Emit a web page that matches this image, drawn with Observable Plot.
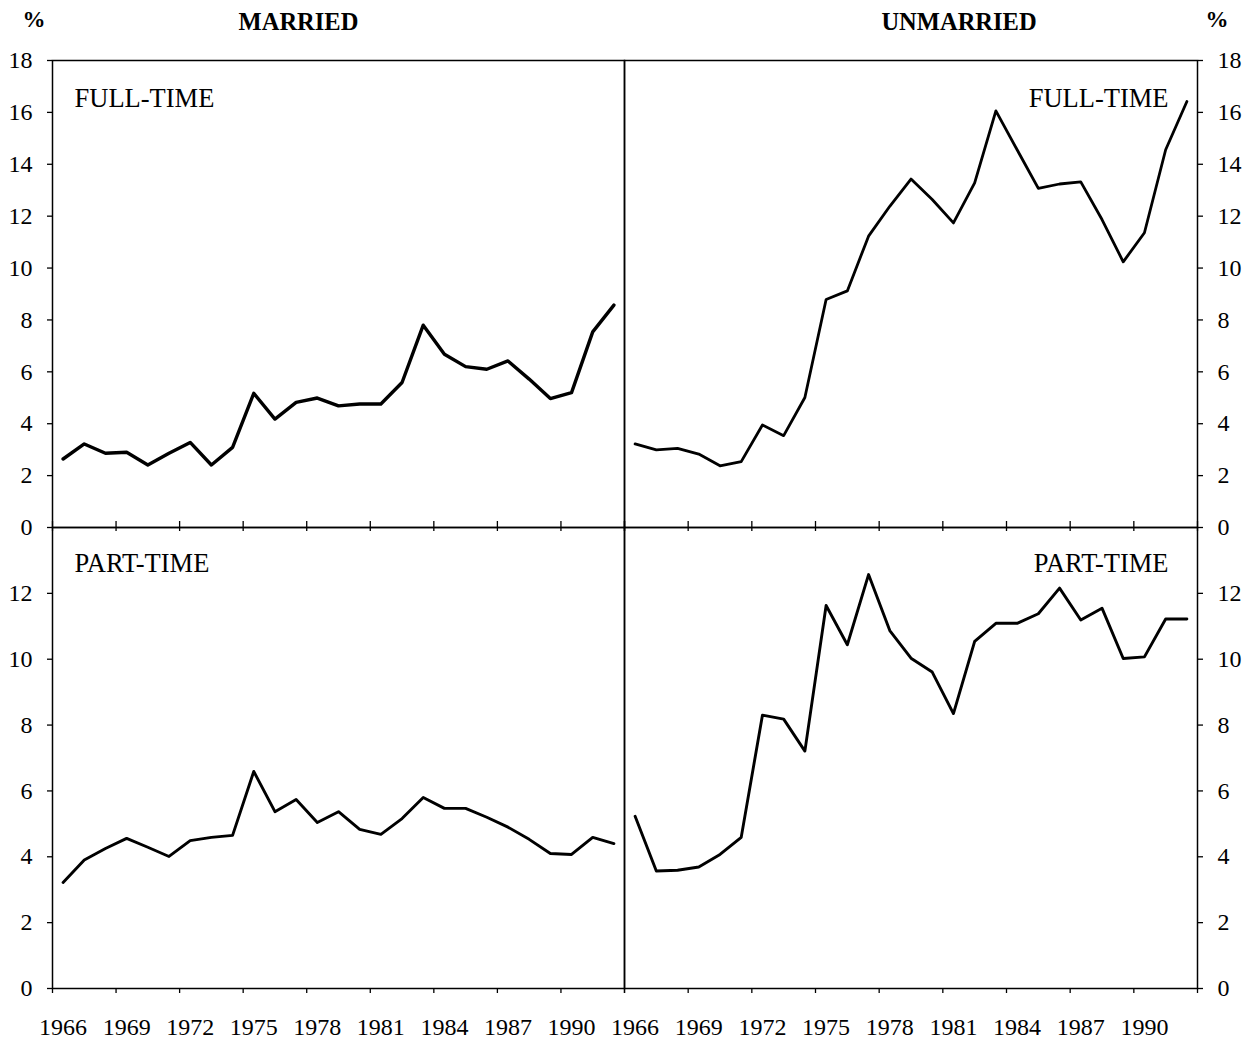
<!DOCTYPE html>
<html>
<head>
<meta charset="utf-8">
<script src="https://cdn.jsdelivr.net/npm/d3@7"></script>
<script src="https://cdn.jsdelivr.net/npm/@observablehq/plot@0.6"></script>
<style>
  html, body { margin: 0; padding: 0; background: #fff; }
  #chart { position: relative; width: 1254px; height: 1042px; background: #fff; }
  #chart svg { position: absolute; left: 0; top: 0; }
</style>
</head>
<body>
<div id="chart"></div>
<script>
// ---- data (percent) ----
const years = [1966, 1967, 1968, 1969, 1970, 1971, 1972, 1973, 1974, 1975, 1976, 1977, 1978, 1979,
               1980, 1981, 1982, 1983, 1984, 1985, 1986, 1987, 1988, 1989, 1990, 1991, 1992];
const marriedFullTime = [2.64, 3.22, 2.86, 2.90, 2.41, 2.86, 3.28, 2.41, 3.09, 5.17, 4.18, 4.82, 4.99, 4.69,
                         4.76, 4.76, 5.59, 7.80, 6.68, 6.20, 6.10, 6.42, 5.72, 4.97, 5.20, 7.54, 8.57];
const unmarriedFullTime = [3.22, 2.99, 3.05, 2.83, 2.38, 2.54, 3.95, 3.54, 5.01, 8.79, 9.12, 11.23, 12.38, 13.43,
                           12.64, 11.74, 13.28, 16.06, 14.56, 13.07, 13.24, 13.32, 11.87, 10.24, 11.36, 14.56, 16.42];
const marriedPartTime = [3.22, 3.90, 4.25, 4.56, 4.29, 4.01, 4.49, 4.59, 4.65, 6.59, 5.37, 5.74, 5.04, 5.37,
                         4.83, 4.68, 5.16, 5.80, 5.47, 5.47, 5.20, 4.90, 4.53, 4.10, 4.07, 4.59, 4.40];
const unmarriedPartTime = [5.23, 3.57, 3.59, 3.69, 4.07, 4.59, 8.30, 8.18, 7.21, 11.63, 10.44, 12.57, 10.87, 10.03,
                           9.61, 8.35, 10.54, 11.09, 11.09, 11.38, 12.16, 11.19, 11.55, 10.02, 10.07, 11.22, 11.22];

const labelYears = [1966, 1969, 1972, 1975, 1978, 1981, 1984, 1987, 1990];
const yTicksFull = [0, 2, 4, 6, 8, 10, 12, 14, 16, 18];
const yTicksPart = [0, 2, 4, 6, 8, 10, 12];
const columnTitles = ["MARRIED", "UNMARRIED"];
const panelLabels = ["FULL-TIME", "PART-TIME"];
const unitLabel = "%";

// ---- layout ----
const W = 1254, H = 1042;
const X0 = 52, XM = 624, X1 = 1197;
const Y0 = 60, YM = 527, Y1 = 988;
const FONT = "'Liberation Serif', 'Times New Roman', Times, serif";
// category boundaries (tick marks between year groups)
const tickBounds = labelYears.map(y => y - 0.5).concat([years[years.length - 1] + 0.5]);

function panel({values, side, row, strokeWidth}) {
  const isLeft = side === "left";
  const isTop = row === "top";
  const marginLeft = isLeft ? X0 : XM;
  const marginRight = isLeft ? W - XM : W - X1;
  const marginTop = isTop ? Y0 : YM;
  const marginBottom = isTop ? H - YM : H - Y1;
  const innerH = H - marginTop - marginBottom;
  const data = years.map((year, i) => ({year, value: values[i]}));

  const marks = [
    Plot.axisY({
      anchor: isLeft ? "left" : "right",
      ticks: isTop ? yTicksFull : yTicksPart,
      tickSize: 5, tickPadding: 15, fontSize: 24, label: null,
      tickFormat: d => String(d), stroke: "#000", fill: "#000", strokeWidth: 1.3
    }),
    Plot.line(data, {x: "year", y: "value", stroke: "#000", strokeWidth, strokeLinejoin: "round"}),
    Plot.text([isTop ? panelLabels[0] : panelLabels[1]], {
      frameAnchor: isLeft ? "top-left" : "top-right",
      textAnchor: isLeft ? "start" : "end", lineAnchor: "middle",
      dx: isLeft ? 22 : -29, dy: isTop ? 38 : 36,
      fontSize: 26.5, fill: "#000"
    }),
    Plot.frame({stroke: "#000", strokeWidth: 1.5})
  ];
  if (isTop) {
    marks.push(Plot.ruleX(tickBounds, {insetTop: innerH - 6, stroke: "#000", strokeWidth: 1.3}));
    marks.push(Plot.text([isLeft ? columnTitles[0] : columnTitles[1]], {
      frameAnchor: "top", lineAnchor: "middle", dx: isLeft ? -40 : 48, dy: -38,
      fontSize: 24.5, fontWeight: "bold", fill: "#000"
    }));
    marks.push(Plot.text([unitLabel], {
      frameAnchor: isLeft ? "top-left" : "top-right", lineAnchor: "middle",
      dx: isLeft ? -30 : 31, dy: -41,
      fontSize: 23, fontWeight: "bold", fill: "#000"
    }));
  } else {
    marks.push(Plot.ruleX(tickBounds, {insetBottom: innerH - 4, stroke: "#000", strokeWidth: 1.3}));
    marks.push(Plot.axisX({ticks: tickBounds, tickSize: 5, fill: "none", label: null, stroke: "#000", strokeWidth: 1.3}));
    marks.push(Plot.axisX({
      ticks: labelYears, tickSize: 0, tickPadding: 29, fontSize: 24, label: null,
      tickFormat: d => String(d), fill: "#000"
    }));
  }

  return Plot.plot({
    width: W, height: H,
    marginLeft, marginRight, marginTop, marginBottom,
    x: {type: "linear", domain: [years[0] - 0.5, years[years.length - 1] + 0.5], axis: null, label: null},
    y: {domain: [0, isTop ? 18 : 14], axis: null, label: null},
    style: {background: "transparent", fontFamily: FONT, color: "#000", overflow: "visible"},
    marks
  });
}

const chart = document.getElementById("chart");
chart.append(
  panel({values: marriedFullTime, side: "left", row: "top", strokeWidth: 3.4}),
  panel({values: unmarriedFullTime, side: "right", row: "top", strokeWidth: 2.8}),
  panel({values: marriedPartTime, side: "left", row: "bottom", strokeWidth: 2.9}),
  panel({values: unmarriedPartTime, side: "right", row: "bottom", strokeWidth: 2.9})
);
</script>
</body>
</html>
